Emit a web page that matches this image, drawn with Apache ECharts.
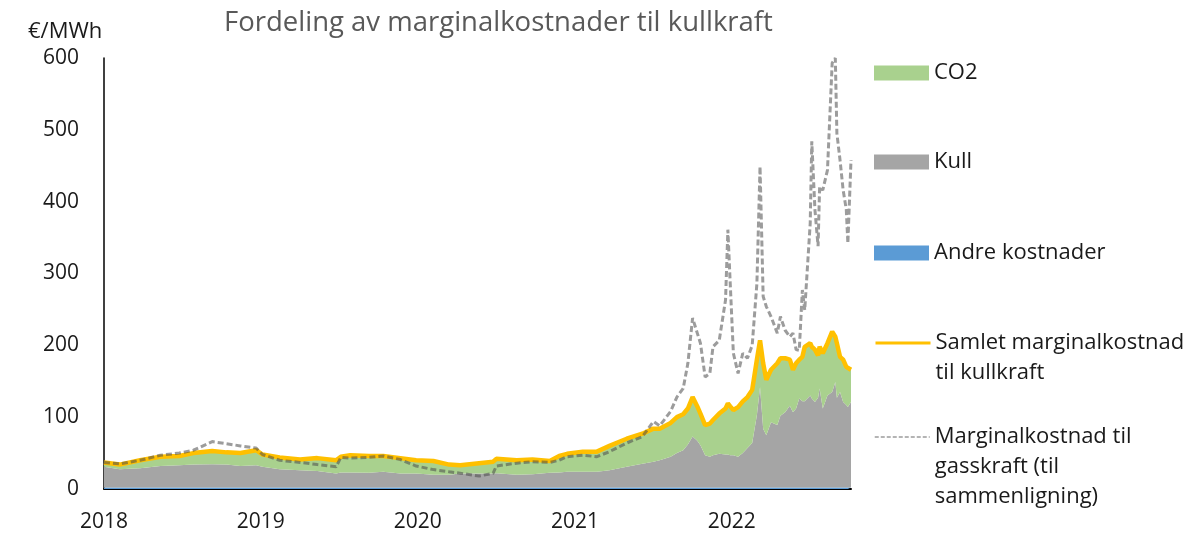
<!DOCTYPE html>
<html>
<head>
<meta charset="utf-8">
<script src="https://cdn.jsdelivr.net/npm/echarts@6/dist/echarts.min.js"></script>
<style>
  html, body { margin: 0; padding: 0; background: #fff; }
  #chart { width: 1194px; height: 533px; }
</style>
</head>
<body>
<div id="chart"></div>
<script>
// time as decimal years
const years = [
  2018.00, 2018.10, 2018.23, 2018.36, 2018.48, 2018.57, 2018.69, 2018.78, 2018.87, 2018.97,
  2019.01, 2019.12, 2019.25, 2019.36, 2019.48, 2019.51, 2019.57, 2019.69, 2019.78, 2019.89,
  2019.99, 2020.10, 2020.20, 2020.27, 2020.39, 2020.48, 2020.50, 2020.63, 2020.73, 2020.84,
  2020.90, 2020.95, 2021.05, 2021.14, 2021.22, 2021.33, 2021.43, 2021.50, 2021.54, 2021.61,
  2021.65, 2021.69, 2021.72, 2021.75, 2021.78, 2021.80, 2021.83, 2021.86, 2021.88, 2021.92,
  2021.96, 2021.975, 2021.99, 2022.01, 2022.04, 2022.07, 2022.10, 2022.13, 2022.16, 2022.18,
  2022.20, 2022.22, 2022.25, 2022.29, 2022.31, 2022.34, 2022.37, 2022.39, 2022.41, 2022.43,
  2022.45, 2022.465, 2022.50, 2022.51, 2022.53, 2022.55, 2022.56, 2022.58, 2022.61, 2022.64,
  2022.66, 2022.67, 2022.69, 2022.71, 2022.73, 2022.74, 2022.76
];
const andre = [
  2, 2, 2, 2, 2, 2, 2, 2, 2, 2,
  2, 2, 2, 2, 2, 2, 2, 2, 2, 2,
  2, 2, 2, 2, 2, 2, 2, 2, 2, 2,
  2, 2, 2, 2, 2, 2, 2, 2, 2, 2,
  2, 2, 2, 2, 2, 2, 2, 2, 2, 2,
  2, 2, 2, 2, 2, 2, 2, 2, 2, 2,
  2, 2, 2, 2, 2, 2, 2, 2, 2, 2,
  2, 2, 2, 2, 2, 2, 2, 2, 2, 2,
  2, 2, 2, 2, 2, 2, 2
];
const kull = [
  29, 25.5, 27, 30, 31, 32, 32.5, 32, 30, 31,
  29, 25.5, 24, 23, 19.5, 21, 21, 20.5, 22, 19.5,
  19.5, 18, 18, 19.5, 19.5, 19.5, 20, 18, 18.5, 20.5,
  21, 22, 22, 22, 24, 29, 33, 36, 38, 43,
  48, 52, 60, 71, 65, 59, 45, 43, 45, 47,
  46, 46, 45, 45, 43, 48, 55, 62, 101, 140,
  82, 73, 91, 87, 100, 105, 114, 105, 110, 124,
  120, 120, 128, 124, 119, 125, 138, 110, 128, 133,
  147, 125, 133, 119, 115, 112, 119
];
const co2 = [
  6, 6.5, 11, 13, 13, 16, 18.5, 17, 18, 21,
  17, 16.5, 15, 18, 18.5, 22, 24, 23.5, 22, 21.5,
  18.5, 19, 14, 11.5, 14.5, 16.5, 20, 20, 20.5, 16.5,
  23, 25, 28, 28, 34, 39, 42, 46, 44, 47,
  50, 50, 50, 55, 48, 44, 42, 46, 49, 56,
  64, 71, 68, 63, 69, 72, 71, 74, 77, 65,
  91, 77, 73, 86, 80, 75, 64, 59, 63, 54,
  62, 76, 73, 72, 73, 59, 58, 77, 73, 84,
  63, 76, 49, 59, 53, 54, 45
];
const samlet = [
  37, 34, 40, 45, 46, 50, 53, 51, 50, 54,
  48, 44, 41, 43, 40, 45, 47, 46, 46, 43,
  40, 39, 34, 33, 36, 38, 42, 40, 41, 39,
  46, 49, 52, 52, 60, 70, 77, 84, 84, 92,
  100, 104, 112, 128, 115, 105, 89, 91, 96, 105,
  112, 119, 115, 110, 114, 122, 128, 138, 180, 207,
  175, 152, 166, 175, 182, 182, 180, 166, 175, 180,
  184, 198, 203, 198, 194, 186, 198, 189, 203, 219,
  212, 203, 184, 180, 170, 168, 166
];
const gass = [
  37, 35, 40, 47, 50, 54, 66, 63, 60, 57,
  48, 40, 37, 34, 31, 44, 43, 44, 46, 41,
  32, 27, 24, 22, 18, 22, 32, 36, 38, 37,
  40, 45, 47, 45, 52, 64, 73, 94, 88, 108,
  128, 140, 175, 238, 217, 203, 156, 161, 198, 207,
  263, 361, 286, 189, 161, 189, 182, 200, 286, 449,
  268, 254, 240, 217, 240, 221, 212, 217, 194, 193,
  277, 249, 370, 484, 389, 338, 421, 416, 444, 593,
  600, 495, 458, 416, 389, 342, 458
];
const xStart = 2018;
const xEnd = 2022.76;

// decimal year -> timestamp
function toTime(y) {
  const yr = Math.floor(y);
  const a = new Date(yr, 0, 1).getTime();
  const b = new Date(yr + 1, 0, 1).getTime();
  return a + (y - yr) * (b - a);
}
const pairs = vals => years.map((y, i) => [toTime(y), vals[i]]);

const font = '"Open Sans", "Noto Sans", sans-serif';
const legendText = { fontFamily: font, fontSize: 22, color: '#1a1a1a', lineHeight: 30 };
const legendBase = {
  orient: 'vertical',
  left: 874,
  padding: 0,
  itemWidth: 55,
  itemHeight: 15,
  itemGap: 0,
  textStyle: legendText,
  selectedMode: false
};

const areaSeries = (name, vals, color) => ({
  name: name,
  type: 'line',
  stack: 'kost',
  data: pairs(vals),
  symbol: 'none',
  lineStyle: { width: 0 },
  itemStyle: { color: color },
  areaStyle: { color: color, opacity: 1 },
  z: 2
});

const option = {
  animation: false,
  title: [
    {
      text: 'Fordeling av marginalkostnader til kullkraft',
      left: 219,
      top: 4,
      textStyle: { fontFamily: font, fontSize: 27.5, fontWeight: 'normal', color: '#595959' }
    },
    {
      text: '€/MWh',
      left: 23,
      top: 16,
      textStyle: { fontFamily: font, fontSize: 22, fontWeight: 'normal', color: '#1a1a1a' }
    }
  ],
  legend: [
    Object.assign({}, legendBase, { top: 58, data: [{ name: 'CO2', icon: 'rect' }] }),
    Object.assign({}, legendBase, { top: 147, data: [{ name: 'Kull', icon: 'rect' }] }),
    Object.assign({}, legendBase, { top: 238, data: [{ name: 'Andre kostnader', icon: 'rect' }] }),
    Object.assign({}, legendBase, {
      top: 298,
      data: ['Samlet marginalkostnad'],
      formatter: () => ' \nSamlet marginalkostnad\ntil kullkraft',
      itemStyle: { opacity: 0 },
      lineStyle: { width: 3, opacity: 1 }
    }),
    Object.assign({}, legendBase, {
      top: 362,
      data: ['Marginalkostnad gass'],
      formatter: () => ' \n \nMarginalkostnad til\ngasskraft (til\nsammenligning)',
      itemStyle: { opacity: 0 },
      lineStyle: { width: 1.5, type: [4, 2], opacity: 1 }
    })
  ],
  grid: { left: 104, top: 58, right: 343, bottom: 44, containLabel: false },
  xAxis: {
    type: 'time',
    min: toTime(xStart),
    max: toTime(xEnd),
    axisLine: { show: true, lineStyle: { color: '#000', width: 2 } },
    axisTick: { show: false },
    splitLine: { show: false },
    axisLabel: {
      showMinLabel: true,
      showMaxLabel: false,
      hideOverlap: false,
      margin: 23,
      fontFamily: font,
      fontSize: 21,
      color: '#1a1a1a',
      formatter: v => {
        const d = new Date(v);
        return d.getMonth() === 0 && d.getDate() === 1 ? String(d.getFullYear()) : '';
      }
    }
  },
  yAxis: {
    type: 'value',
    min: 0,
    max: 600,
    interval: 100,
    axisLine: { show: true, lineStyle: { color: '#000', width: 1.5 } },
    axisTick: { show: false },
    splitLine: { show: false },
    axisLabel: { margin: 25, fontFamily: font, fontSize: 21, color: '#1a1a1a' }
  },
  series: [
    areaSeries('Andre kostnader', andre, '#5B9BD5'),
    areaSeries('Kull', kull, '#A5A5A5'),
    areaSeries('CO2', co2, '#A9D18E'),
    {
      name: 'Samlet marginalkostnad',
      type: 'line',
      data: pairs(samlet),
      symbol: 'none',
      itemStyle: { color: '#FFC000' },
      lineStyle: { color: '#FFC000', width: 4.5 },
      z: 3
    },
    {
      name: 'Marginalkostnad gass',
      type: 'line',
      data: pairs(gass),
      symbol: 'none',
      itemStyle: { color: 'rgba(75,75,75,0.55)' },
      lineStyle: { color: 'rgba(75,75,75,0.55)', width: 3, type: [6, 3] },
      z: 4
    }
  ]
};

const myChart = echarts.init(document.getElementById('chart'));
myChart.setOption(option);
</script>
</body>
</html>
